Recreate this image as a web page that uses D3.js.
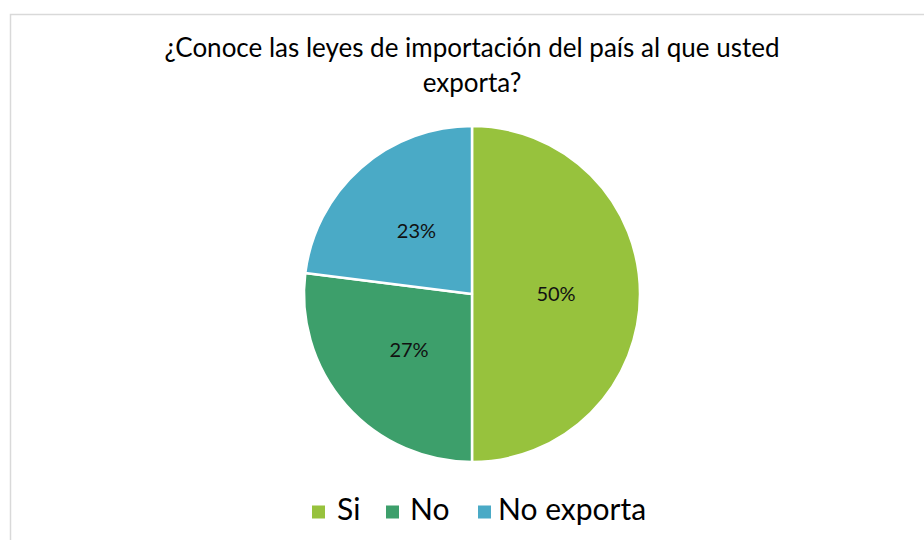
<!DOCTYPE html>
<html><head><meta charset="utf-8">
<script src="https://cdn.jsdelivr.net/npm/d3@7"></script>
<style>body{margin:0;background:#fff;} svg{display:block;}</style>
</head><body>
<svg id="c" width="924" height="540"></svg>
<script>
const categories = ["Si", "No", "No exporta"];
const values = [50, 27, 23];
const colors = ["#97c23d", "#3d9f6b", "#4aaac6"];
const titleLines = ["¿Conoce las leyes de importación del país al que usted", "exporta?"];

const svg = d3.select("#c");
const font = "Lato, 'Open Sans', sans-serif";

svg.append("rect").attr("x", 10.5).attr("y", 14.5).attr("width", 930).attr("height", 540)
  .attr("fill", "#fff").attr("stroke", "#d9d9d9").attr("stroke-width", 1.5);

svg.append("g").selectAll("text").data(titleLines).join("text")
  .attr("x", 472).attr("y", (d, i) => 57 + i * 35)
  .attr("text-anchor", "middle").attr("font-family", font).attr("font-size", 26)
  .attr("fill", "#000").text(d => d);

const cx = 472, cy = 294, r = 168;
const pie = d3.pie().sort(null).value(d => d)(values);
const arc = d3.arc().innerRadius(0).outerRadius(r);
const g = svg.append("g").attr("transform", `translate(${cx},${cy})`);
g.selectAll("path").data(pie).join("path")
  .attr("d", arc).attr("fill", (d, i) => colors[i])
  .attr("stroke", "#fff").attr("stroke-width", 2.5).attr("stroke-linejoin", "round");

const labelArc = d3.arc().innerRadius(r * 0.5).outerRadius(r * 0.5);
const total = d3.sum(values);
g.selectAll("text.lbl").data(pie).join("text").attr("class", "lbl")
  .attr("transform", d => `translate(${labelArc.centroid(d)})`)
  .attr("text-anchor", "middle").attr("dy", "0.35em")
  .attr("font-family", font).attr("font-size", 20).attr("fill", "#111")
  .text(d => Math.round(d.data / total * 100) + "%");

// legend
const squareX = [312, 386, 478];
const textX = [337, 410, 498];
const lg = svg.append("g");
categories.forEach((c, i) => {
  lg.append("rect").attr("x", squareX[i]).attr("y", 505.5).attr("width", 13).attr("height", 13).attr("fill", colors[i]);
  lg.append("text").attr("x", textX[i]).attr("y", 520)
    .attr("font-family", font).attr("font-size", 30).attr("fill", "#000").text(c);
});
</script>
</body></html>
